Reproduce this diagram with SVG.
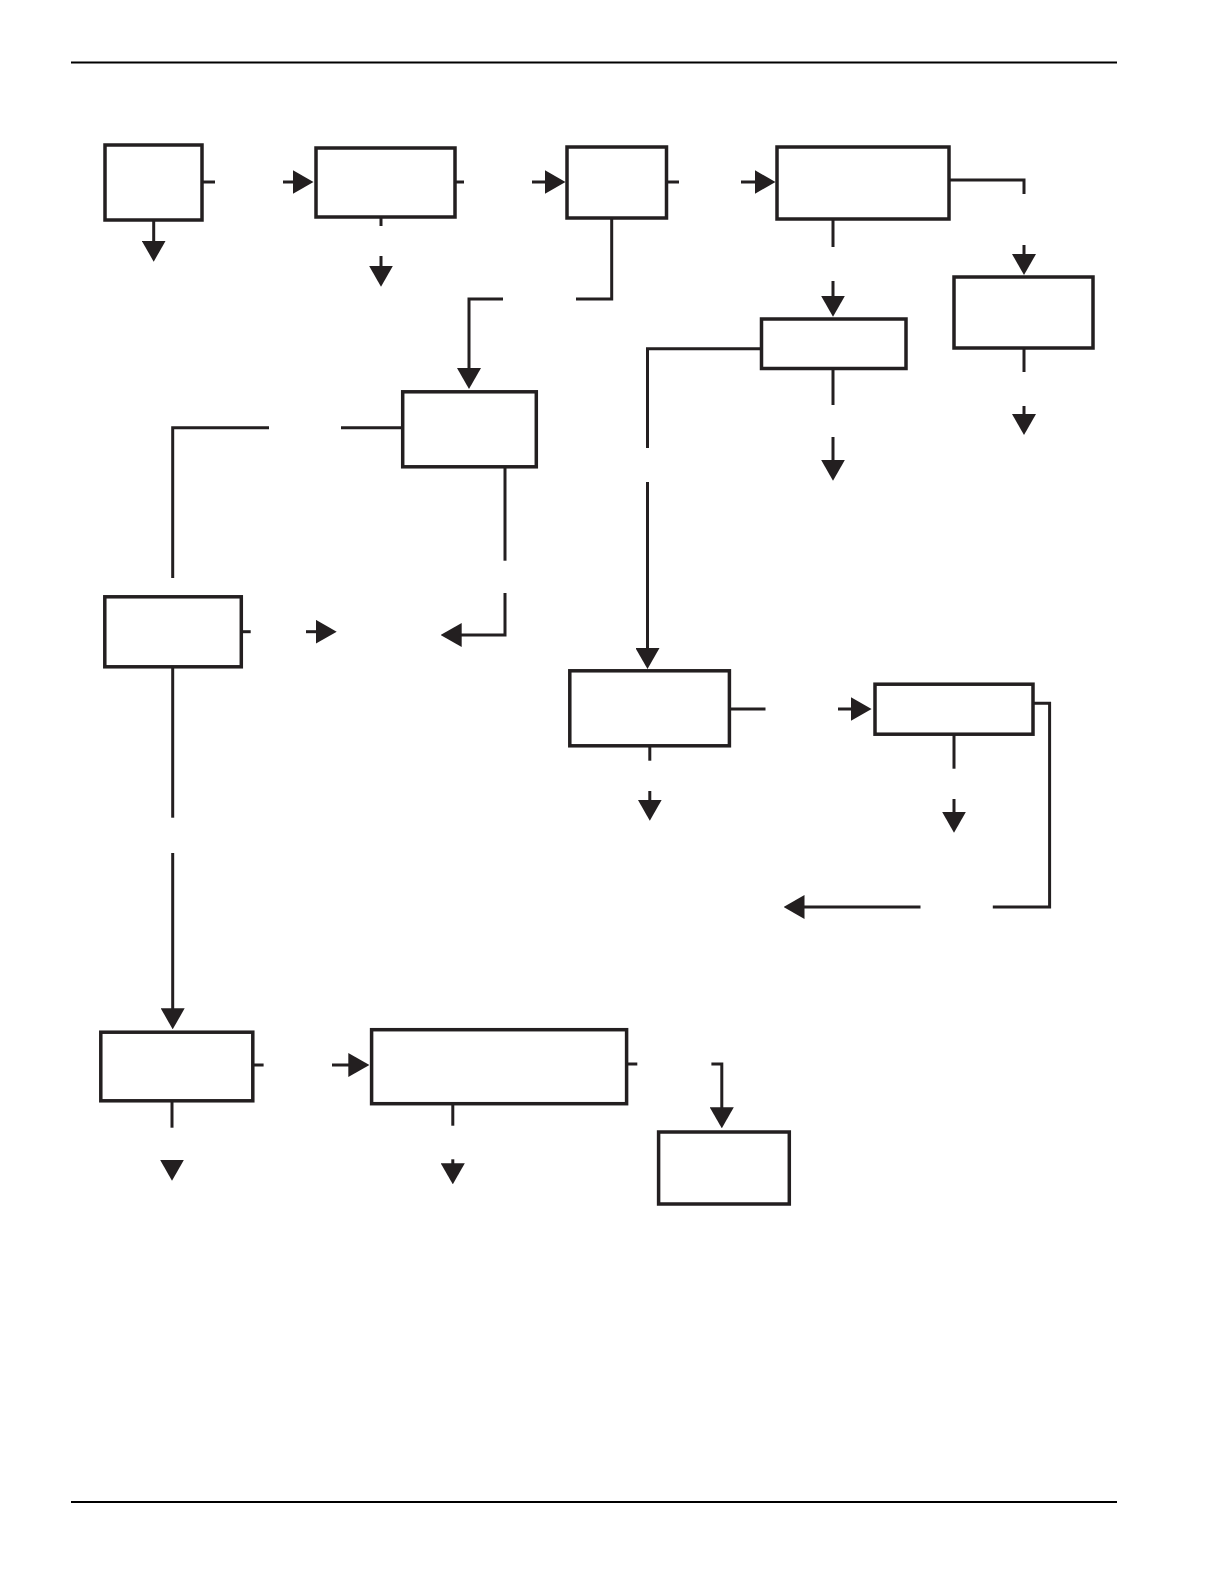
<svg xmlns="http://www.w3.org/2000/svg" width="1224" height="1584" viewBox="0 0 1224 1584">
<style>
.box{fill:#fff;stroke:#231f20;stroke-width:3.5}
.c{fill:none;stroke:#231f20;stroke-width:3}
.a{marker-end:url(#ah)}
.rule{stroke:#000;stroke-width:2}
</style>
<defs>
<marker id="ah" markerUnits="userSpaceOnUse" viewBox="0 0 21 24" markerWidth="21" markerHeight="24" refX="11" refY="12" orient="auto">
<path d="M0,0 L21,12 L0,24 Z" fill="#231f20"/>
</marker>
</defs>
<rect width="1224" height="1584" fill="#fff"/>
<line class="rule" x1="71" y1="62.5" x2="1117" y2="62.5"/>
<line class="rule" x1="71" y1="1502" x2="1117" y2="1502"/>
<g id="connectors">
<path class="c" d="M202,182 H215"/>
<path class="c a" d="M283,182 H303.5"/>
<path class="c" d="M455,182 H464"/>
<path class="c a" d="M532,182 H555.5"/>
<path class="c" d="M666,182 H679"/>
<path class="c a" d="M741,182 H765.5"/>
<path class="c" d="M949,180 H1024 V194"/>
<path class="c a" d="M1024,245 V265"/>
<path class="c a" d="M153.7,220 V251.7"/>
<path class="c" d="M381,217 V226"/>
<path class="c a" d="M381,256 V276.7"/>
<path class="c" d="M611.7,218 V299 H576"/>
<path class="c a" d="M503,299 H469 V379"/>
<path class="c" d="M833,219 V247"/>
<path class="c a" d="M833,281 V306.7"/>
<path class="c" d="M833,368.5 V405"/>
<path class="c a" d="M833,437 V470.7"/>
<path class="c" d="M1024,348 V372"/>
<path class="c a" d="M1024,406 V425"/>
<path class="c" d="M761.5,348.7 H647.5 V448"/>
<path class="c a" d="M647.5,482 V659"/>
<path class="c" d="M402.7,427.7 H341"/>
<path class="c" d="M269,427.7 H172.7 V578"/>
<path class="c" d="M505,466.8 V560.7"/>
<path class="c a" d="M505,593 V635 H450.7"/>
<path class="c" d="M241.3,631.7 H250.7"/>
<path class="c a" d="M306,631.7 H326.7"/>
<path class="c" d="M172.7,667 V817.7"/>
<path class="c a" d="M172.7,853 V1019.3"/>
<path class="c" d="M729.4,709 H765.5"/>
<path class="c a" d="M838,709 H861.6"/>
<path class="c" d="M1033,703.3 H1049.6 V907 H992.8"/>
<path class="c a" d="M920.5,907 H793.5"/>
<path class="c" d="M954,734 V768.7"/>
<path class="c a" d="M954,799 V822.7"/>
<path class="c" d="M649.8,745.8 V760.7"/>
<path class="c a" d="M649.8,791 V810.7"/>
<path class="c" d="M252.7,1065 H263.6"/>
<path class="c a" d="M332,1065 H359.3"/>
<path class="c" d="M626.5,1064 H637.3"/>
<path class="c" d="M452.8,1103.7 V1125.7"/>
<path class="c a" d="M452.8,1159.3 V1174.3"/>
<path class="c" d="M172,1100.8 V1127.7"/>
<path class="c a" d="M172,1160 V1170.7"/>
<path class="c a" d="M711.4,1064 H721.8 V1118.3"/>
</g>
<g id="n1"><rect class="box" x="105" y="145" width="97" height="75"/></g>
<g id="n2"><rect class="box" x="316" y="148" width="139" height="69"/></g>
<g id="n3"><rect class="box" x="567" y="147" width="99.5" height="71"/></g>
<g id="n4"><rect class="box" x="777" y="147" width="172" height="72"/></g>
<g id="n5"><rect class="box" x="954" y="277" width="139" height="71"/></g>
<g id="n6"><rect class="box" x="402.7" y="391.8" width="133.6" height="75"/></g>
<g id="n7"><rect class="box" x="761.5" y="319" width="144.5" height="49.5"/></g>
<g id="n8"><rect class="box" x="569.8" y="670.8" width="159.6" height="75"/></g>
<g id="n9"><rect class="box" x="104.8" y="596.8" width="136.5" height="70"/></g>
<g id="n10"><rect class="box" x="100.8" y="1032.2" width="152" height="68.6"/></g>
<g id="n11"><rect class="box" x="371.6" y="1029.7" width="255" height="74"/></g>
<g id="n12"><rect class="box" x="658.6" y="1132" width="130.7" height="72"/></g>
<g id="n13"><rect class="box" x="875" y="684.2" width="158" height="50"/></g>
</svg>
